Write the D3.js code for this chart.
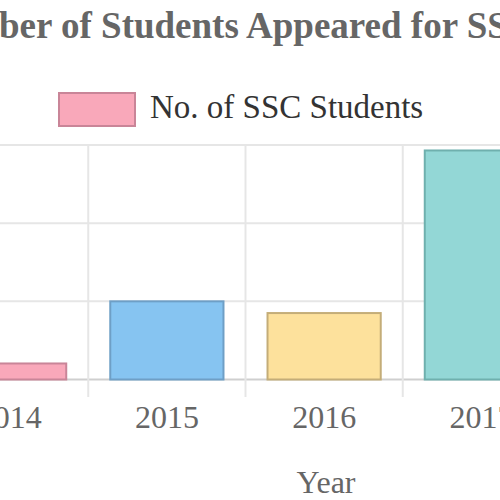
<!DOCTYPE html>
<html>
<head>
<meta charset="utf-8">
<script src="https://cdn.jsdelivr.net/npm/d3@7"></script>
<style>
  body { margin: 0; background: #fff; }
  svg { display: block; font-family: "Liberation Serif", "DejaVu Serif", serif; }
</style>
</head>
<body>
<svg id="chart" width="500" height="500"></svg>
<script>
// data
var years = ['2014', '2015', '2016', '2017'],
    students = [205, 1000, 850, 2930],
    yTicks = [0, 1000, 2000, 3000],
    fills = ['#f9a8ba', '#86c4f1', '#fde19c', '#93d7d6'],
    strokes = ['#c98598', '#6e9fc6', '#c4ad78', '#6fb0ae'],
    titleText = 'Number of Students Appeared for SSC Exam',
    legendText = 'No. of SSC Students',
    xTitle = 'Year';

var svg = d3.select('#chart'),
    plotTop = 145, plotBottom = 379.5;

var x = d3.scaleBand().domain(years).range([-69, 560])
      .paddingInner(0.28).paddingOuter(0.14),
    step = x.step(),
    y = d3.scaleLinear().domain([0, 3000]).range([plotBottom, plotTop]);

// horizontal grid
svg.append('g').selectAll('line').data(yTicks).join('line')
  .attr('x1', 0).attr('x2', 500)
  .attr('y1', function(d){ return y(d); })
  .attr('y2', function(d){ return y(d); })
  .attr('stroke', function(d){ return d === 0 ? '#cfcfcf' : '#e6e6e6'; })
  .attr('stroke-width', 2);

// vertical grid at category edges, running down into tick marks
svg.append('g').selectAll('line').data(years).join('line')
  .attr('x1', function(d){ return x(d) - step * 0.14; })
  .attr('x2', function(d){ return x(d) - step * 0.14; })
  .attr('y1', plotTop).attr('y2', 397)
  .attr('stroke', '#e6e6e6').attr('stroke-width', 2);

// bars
svg.append('g').selectAll('rect').data(students).join('rect')
  .attr('x', function(d, i){ return x(years[i]); })
  .attr('width', x.bandwidth())
  .attr('y', function(d){ return y(d); })
  .attr('height', function(d){ return plotBottom - y(d); })
  .attr('fill', function(d, i){ return fills[i]; })
  .attr('stroke', function(d, i){ return strokes[i]; })
  .attr('stroke-width', 2);

// x tick labels
svg.append('g').selectAll('text').data(years).join('text')
  .attr('x', function(d){ return x(d) + x.bandwidth() / 2; })
  .attr('y', 428)
  .attr('text-anchor', 'middle')
  .attr('font-size', 32)
  .attr('fill', '#666')
  .text(function(d){ return d; });

svg.append('text')
  .attr('x', 326).attr('y', 493)
  .attr('text-anchor', 'middle')
  .attr('font-size', 32)
  .attr('fill', '#666')
  .text(xTitle);

// legend
svg.append('rect')
  .attr('x', 59).attr('y', 93).attr('width', 76).attr('height', 33)
  .attr('fill', fills[0]).attr('stroke', strokes[0]).attr('stroke-width', 2);
svg.append('text')
  .attr('x', 150).attr('y', 118)
  .attr('font-size', 33)
  .attr('fill', '#333')
  .text(legendText);

// title, shifted so that "ber" starts at the left edge
var title = svg.append('text')
  .attr('y', 38)
  .attr('font-size', 37)
  .attr('font-weight', 'bold')
  .attr('fill', '#666')
  .text(titleText);
var probe = svg.append('text').attr('font-size', 37).attr('font-weight', 'bold').text('Num');
var shift = probe.node().getComputedTextLength();
probe.remove();
title.attr('x', -shift - 1);
</script>
</body>
</html>
